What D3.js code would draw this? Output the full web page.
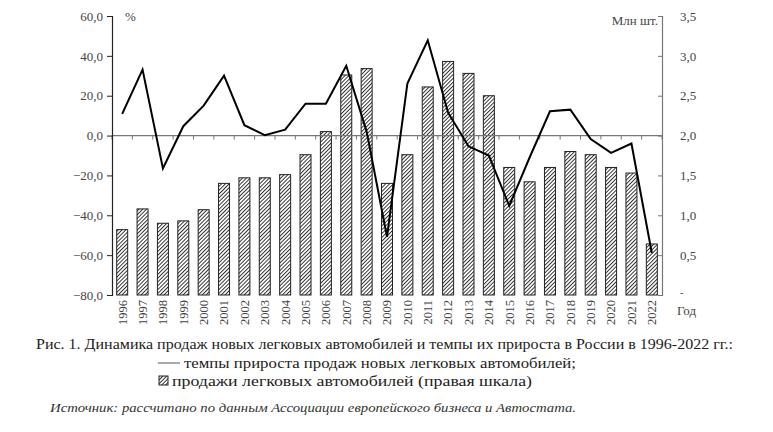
<!DOCTYPE html>
<html><head><meta charset="utf-8">
<script src="https://cdn.jsdelivr.net/npm/d3@7"></script>
<style>body{margin:0;background:#fff}svg{display:block}svg text{font-family:"Liberation Serif","Times New Roman","DejaVu Serif",serif}</style>
</head><body>
<svg id="c" width="773" height="432"></svg>
<script>
const years = ["1996","1997","1998","1999","2000","2001","2002","2003","2004","2005","2006","2007","2008","2009","2010","2011","2012","2013","2014","2015","2016","2017","2018","2019","2020","2021","2022"];
const sales = [0.82,1.08,0.90,0.93,1.07,1.40,1.47,1.47,1.51,1.76,2.05,2.76,2.84,1.40,1.76,2.61,2.93,2.78,2.50,1.60,1.42,1.60,1.80,1.76,1.60,1.53,0.64];
const growth = [10.9,33.1,-16.5,4.7,15.0,30.1,5.2,0.2,3.0,16.0,16.0,35.0,2.0,-50.8,26.1,47.8,11.5,-5.4,-10.0,-35.3,-11.0,12.2,13.0,-1.7,-8.7,-4.0,-58.9];
const leftTicks = [60,40,20,0,-20,-40,-60,-80];
const rightTicks = [3.5,3.0,2.5,2.0,1.5,1.0,0.5,0];
const captionTitle = "Рис. 1. Динамика продаж новых легковых автомобилей и темпы их прироста в России в 1996-2022 гг.:";
const legendLine = "темпы прироста продаж новых легковых автомобилей;";
const legendBar = "продажи легковых автомобилей (правая шкала)";
const sourceText = "Источник: рассчитано по данным Ассоциации европейского бизнеса и Автостата.";

const svg = d3.select("#c");
const L = 112, R = 662, T = 16, B = 295;
const font = '"Liberation Serif","Times New Roman","DejaVu Serif",serif';
const fmt = v => d3.format(".1f")(v).replace(".", ",");

const defs = svg.append("defs");
const pat = defs.append("pattern").attr("id","hatch").attr("patternUnits","userSpaceOnUse")
  .attr("width",2.7).attr("height",2.7).attr("patternTransform","rotate(45)");
pat.append("rect").attr("width",2.7).attr("height",2.7).attr("fill","#fff");
pat.append("line").attr("x1",0.5).attr("y1",0).attr("x2",0.5).attr("y2",2.7).attr("stroke","#111").attr("stroke-width",0.85);

const x = d3.scaleBand().domain(years).range([L,R]).paddingInner(0.46).paddingOuter(0.23);
const yL = d3.scaleLinear().domain([-80,60]).range([B,T]);
const yR = d3.scaleLinear().domain([0,3.5]).range([B,T]);

// bars
svg.append("g").selectAll("rect").data(years).join("rect")
  .attr("x", d => x(d)).attr("width", x.bandwidth())
  .attr("y", (d,i) => yR(sales[i])).attr("height", (d,i) => yR(0) - yR(sales[i]))
  .attr("fill","url(#hatch)").attr("stroke","#222").attr("stroke-width",1);

// zero axis
const gx = svg.append("g").attr("transform",`translate(0,${yL(0)})`);
gx.append("path").attr("d",`M${L},0H${R}`).attr("stroke","#777").attr("stroke-width",1.2);
gx.selectAll("line").data(d3.range(years.length+1)).join("line")
  .attr("x1", i => L + x.step()*i).attr("x2", i => L + x.step()*i)
  .attr("y1",0).attr("y2",4).attr("stroke","#777");

// left axis
const gl = svg.append("g").attr("transform",`translate(${L},0)`)
  .call(d3.axisLeft(yL).tickValues(leftTicks).tickSize(5).tickPadding(4).tickFormat(fmt));
gl.attr("font-family", null);
gl.select(".domain").attr("stroke","#222").attr("stroke-width",1.2);
gl.selectAll(".tick line").attr("stroke","#222");
gl.selectAll(".tick text").style("font-family",font).attr("font-size",13).attr("fill","#444");

// right axis
const gr = svg.append("g").attr("transform",`translate(${R},0)`)
  .call(d3.axisRight(yR).tickValues(rightTicks).tickSize(-4).tickPadding(18).tickFormat(v => v === 0 ? "-" : fmt(v)));
gr.attr("font-family", null);
gr.select(".domain").attr("stroke","#777").attr("stroke-width",1.2);
gr.selectAll(".tick line").attr("stroke","#777");
gr.selectAll(".tick text").style("font-family",font).attr("font-size",13).attr("fill","#444");
gr.selectAll(".tick text").filter(d => d === 0).attr("font-size",10).attr("dy","0");

// line
const line = d3.line().x((d,i) => x(years[i]) + x.bandwidth()/2).y(d => yL(d));
svg.append("path").datum(growth).attr("d", line).attr("fill","none")
  .attr("stroke","#000").attr("stroke-width",2).attr("stroke-linejoin","miter");

// year labels
svg.append("g").selectAll("text").data(years).join("text")
  .attr("transform", d => `translate(${x(d)+x.bandwidth()/2},300) rotate(-90)`)
  .attr("text-anchor","end").attr("dy","0.35em")
  .style("font-family",font).attr("font-size",12.5).attr("fill","#444").text(d => d);

// unit labels
svg.append("text").attr("x",125).attr("y",21).style("font-family",font).attr("font-size",13).attr("fill","#444").text("%");
svg.append("text").attr("x",658).attr("y",25).attr("text-anchor","end").style("font-family",font).attr("font-size",13).attr("fill","#444").text("Млн шт.");
svg.append("text").attr("x",677).attr("y",315).style("font-family",font).attr("font-size",13).attr("fill","#444").text("Год");

// caption
svg.append("text").attr("x",36).attr("y",349).style("font-family",font)
  .attr("font-size",14).attr("textLength",697).attr("lengthAdjust","spacingAndGlyphs")
  .attr("fill","#222").text(captionTitle);
const lg = svg.append("g");
lg.append("line").attr("x1",158).attr("x2",180).attr("y1",363).attr("y2",363).attr("stroke","#555").attr("stroke-width",1);
lg.append("text").attr("x",184).attr("y",368).style("font-family",font).attr("font-size",15)
  .attr("textLength",392).attr("lengthAdjust","spacingAndGlyphs").attr("fill","#222").text(legendLine);
lg.append("rect").attr("x",159).attr("y",376).attr("width",9).attr("height",9).attr("fill","url(#hatch)").attr("stroke","#222");
lg.append("text").attr("x",172).attr("y",386).style("font-family",font).attr("font-size",15)
  .attr("textLength",360).attr("lengthAdjust","spacingAndGlyphs").attr("fill","#222").text(legendBar);
svg.append("text").attr("x",50).attr("y",412).style("font-family",font).attr("font-style","italic")
  .attr("font-size",13).attr("textLength",526).attr("lengthAdjust","spacingAndGlyphs")
  .attr("fill","#333").text(sourceText);
</script>
</body></html>
